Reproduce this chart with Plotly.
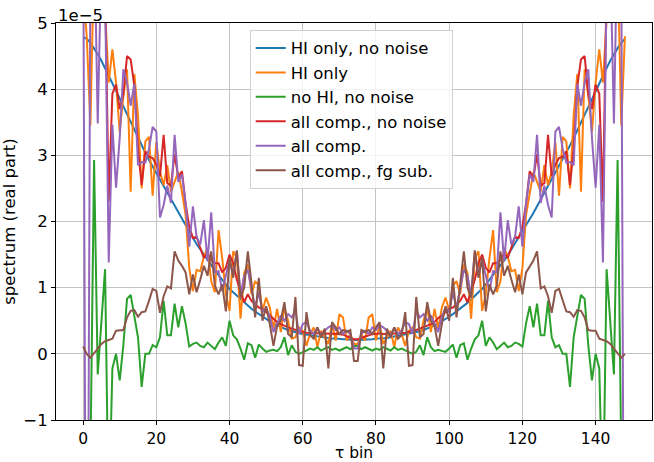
import plotly.graph_objects as go

# tau bins 0..148
tau = list(range(149))

# values in units of 1e-5
hi_no_noise = [
    4.79, 4.76, 4.70, 4.62, 4.53, 4.43, 4.32, 4.21, 4.10, 3.98,
    3.86, 3.74, 3.62, 3.50, 3.38, 3.26, 3.15, 3.04, 2.93, 2.83,
    2.73, 2.63, 2.53, 2.43, 2.33, 2.23, 2.13, 2.03, 1.93, 1.84,
    1.75, 1.66, 1.58, 1.49, 1.41, 1.33, 1.26, 1.19, 1.12, 1.05,
    0.98, 0.93, 0.88, 0.82, 0.77, 0.72, 0.68, 0.64, 0.60, 0.56,
    0.52, 0.49, 0.46, 0.43, 0.40, 0.38, 0.36, 0.34, 0.32, 0.31,
    0.30, 0.29, 0.28, 0.27, 0.26, 0.25, 0.24, 0.24, 0.23, 0.23,
    0.22, 0.22, 0.22, 0.21, 0.21,
    0.21, 0.21, 0.22, 0.22, 0.22, 0.23, 0.23, 0.24, 0.24, 0.25,
    0.26, 0.27, 0.28, 0.29, 0.30, 0.31, 0.32, 0.34, 0.36, 0.38,
    0.40, 0.43, 0.46, 0.49, 0.52, 0.56, 0.60, 0.64, 0.68, 0.72,
    0.77, 0.82, 0.88, 0.93, 0.98, 1.05, 1.12, 1.19, 1.26, 1.33,
    1.41, 1.49, 1.58, 1.66, 1.75, 1.84, 1.93, 2.03, 2.13, 2.23,
    2.33, 2.43, 2.53, 2.63, 2.73, 2.83, 2.93, 3.04, 3.15, 3.26,
    3.38, 3.50, 3.62, 3.74, 3.86, 3.98, 4.10, 4.21, 4.32, 4.43,
    4.53, 4.62, 4.70, 4.76,
]

hi_only = [
    5.5, 4.8, 3.45, 6, 5.5, 6, 5.2, 4.1, 4.6, 4.1,
    3.35, 3.9, 4.3, 2.45, 4.23, 3.6, 2.5, 3.21, 3.28, 2.39,
    3.2, 2.75, 2.55, 2.85, 2.45, 2.6, 2.75, 2.45, 2.1, 1.3,
    0.95, 1.27, 1.25, 1.47, 1.6, 1.1, 0.93, 1.87, 1.45, 0.9,
    0.65, 1.55, 1.45, 0.53, 1.22, 1.35, 0.9, 1.1, 1.03, 0.65,
    0.85, 0.7, 0.38, 0.68, 0.33, 0.7, 0.5, 0.23, 0.25, 0.4,
    0.35, 0.12, 0.3, 0.4, 0.1, 0.35, 0.25, 0.15, 0.45, 0.2,
    0.6, 0.55, 0.2, 0.3, 0.15,
    0.15, 0.3, 0.2, 0.55, 0.6, 0.2, 0.45, 0.15, 0.25, 0.35,
    0.1, 0.4, 0.3, 0.12, 0.35, 0.4, 0.25, 0.23, 0.5, 0.7,
    0.33, 0.68, 0.38, 0.7, 0.85, 0.65, 1.03, 1.1, 0.9, 1.35,
    1.22, 0.53, 1.45, 1.55, 0.65, 0.9, 1.45, 1.87, 0.93, 1.1,
    1.6, 1.47, 1.25, 1.27, 0.95, 1.3, 2.1, 2.45, 2.75, 2.6,
    2.45, 2.85, 2.55, 2.75, 3.2, 2.39, 3.28, 3.21, 2.5, 3.6,
    4.23, 2.45, 4.3, 3.9, 3.35, 4.1, 4.6, 4.1, 5.2, 6,
    5.5, 6, 3.45, 4.8,
]

no_hi_no_noise = [
    -4, -6, -1.6, 2.93, -0.31, 0.48, 1.28, -2.5, -0.22, 0.0,
    -0.4, 0.13, 0.83, 0.89, 0.6, 0.25, -0.5, 0.0, 0.0, 0.13,
    0.1, 0.25, 0.8, 0.28, 0.28, 0.76, 0.4, 0.72, 0.46, 0.11,
    0.15, 0.17, 0.12, 0.1, 0.17, 0.12, 0.07, 0.17, 0.25, 0.12,
    0.5, 0.28, 0.22, 0.08, -0.09, 0.16, 0.13, -0.06, 0.14, 0.08,
    0.03, 0.05, 0.06, 0.04, 0.1, 0.25, -0.02, 0.13, 0.03, 0.0,
    0.02, 0.05, 0.08, 0.06, 0.1, 0.05, 0.08, 0.1, 0.06, 0.08,
    0.05, 0.08, 0.1, 0.07, 0.12,
    0.12, 0.07, 0.1, 0.08, 0.05, 0.08, 0.06, 0.1, 0.08, 0.05,
    0.1, 0.06, 0.08, 0.05, 0.02, 0.0, 0.03, 0.13, -0.02, 0.25,
    0.1, 0.04, 0.06, 0.05, 0.03, 0.08, 0.14, -0.06, 0.13, 0.16,
    -0.09, 0.08, 0.22, 0.28, 0.5, 0.12, 0.25, 0.17, 0.07, 0.12,
    0.17, 0.1, 0.12, 0.17, 0.15, 0.11, 0.46, 0.72, 0.4, 0.76,
    0.28, 0.28, 0.8, 0.25, 0.1, 0.13, 0.0, 0.0, -0.5, 0.25,
    0.6, 0.89, 0.83, 0.13, -0.4, 0.0, -0.22, -2.5, 1.28, 0.48,
    -0.31, 2.93, -1.6, -6,
]

all_no_noise = [
    6.5, 7.5, 6.5, 8, 6.5, 7, 5.6, 2.3, 3.93, 4.07,
    3.7, 3.92, 4.5, 4.45, 4.05, 3.1, 2.55, 3.06, 2.98, 2.96,
    2.86, 2.68, 3.31, 2.58, 2.54, 3.02, 2.66, 2.76, 2.27, 1.92,
    1.75, 1.77, 1.6, 1.45, 1.52, 1.42, 1.37, 1.37, 1.23, 1.3,
    1.5, 1.37, 1.12, 0.95, 0.78, 0.9, 0.8, 0.75, 0.7, 0.68,
    0.63, 0.58, 0.54, 0.48, 0.45, 0.42, 0.4, 0.38, 0.36, 0.34,
    0.33, 0.32, 0.31, 0.31, 0.31, 0.31, 0.3, 0.3, 0.31, 0.3,
    0.3, 0.29, 0.27, 0.24, 0.22,
    0.22, 0.24, 0.27, 0.29, 0.3, 0.3, 0.31, 0.3, 0.3, 0.31,
    0.31, 0.31, 0.31, 0.32, 0.33, 0.34, 0.36, 0.38, 0.4, 0.42,
    0.45, 0.48, 0.54, 0.58, 0.63, 0.68, 0.7, 0.75, 0.8, 0.9,
    0.78, 0.95, 1.12, 1.37, 1.5, 1.3, 1.23, 1.37, 1.37, 1.42,
    1.52, 1.45, 1.6, 1.77, 1.75, 1.92, 2.27, 2.76, 2.66, 3.02,
    2.54, 2.58, 3.31, 2.68, 2.86, 2.96, 2.98, 3.06, 2.55, 3.1,
    4.05, 4.45, 4.5, 3.92, 3.7, 4.07, 3.93, 2.3, 5.6, 7,
    6.5, 8, 6.5, 7.5,
]

all_comp = [
    7, -8, 6, 6.5, 3.48, 6, 5.5, 1.38, 3.46, 2.51,
    3.26, 4.3, 4.1, 3.75, 4.08, 2.85, 2.9, 2.89, 3.1, 3.43,
    3.36, 2.06, 2.25, 2.54, 2.28, 3.31, 2.6, 2.71, 2.27, 1.62,
    2.23, 1.77, 1.65, 2.02, 1.4, 2.14, 1.23, 1.25, 0.95, 1.2,
    1.42, 1.18, 1.56, 0.88, 1.18, 1.27, 0.98, 0.7, 0.93, 0.63,
    0.7, 0.56, 0.33, 0.46, 0.58, 0.5, 0.6, 0.55, 0.65, 0.3,
    0.45, 0.48, 0.35, 0.3, 0.4, 0.28, 0.35, 0.4, 0.43, 0.36,
    0.4, 0.3, 0.35, 0.3, 0.08,
    0.08, 0.3, 0.35, 0.3, 0.4, 0.36, 0.43, 0.4, 0.35, 0.28,
    0.4, 0.3, 0.35, 0.48, 0.45, 0.3, 0.65, 0.55, 0.6, 0.5,
    0.58, 0.46, 0.33, 0.56, 0.7, 0.63, 0.93, 0.7, 0.98, 1.27,
    1.18, 0.88, 1.56, 1.18, 1.42, 1.2, 0.95, 1.25, 1.23, 2.14,
    1.4, 2.02, 1.65, 1.77, 2.23, 1.62, 2.27, 2.71, 2.6, 3.31,
    2.28, 2.54, 2.25, 2.06, 3.36, 3.43, 3.1, 2.89, 2.9, 2.85,
    4.08, 3.75, 4.1, 4.3, 3.26, 2.51, 3.46, 1.38, 5.5, 6,
    3.48, 6.5, 6, -8,
]

all_fg_sub = [
    0.11, 0.0, -0.06, 0.01, 0.08, 0.15, 0.19, 0.21, 0.23, 0.35,
    0.35, 0.36, 0.55, 0.65, 0.66, 0.56, 0.63, 0.64, 0.8, 0.98,
    0.95, 0.62, 0.87, 1.02, 0.99, 1.55, 1.41, 1.33, 1.23, 0.9,
    1.2, 0.93, 1.12, 1.33, 1.18, 1.55, 1.03, 0.9, 1.05, 0.64,
    1.45, 1.15, 1.56, 0.85, 1.0, 1.55, 1.07, 0.55, 1.15, 0.5,
    0.72, 0.45, 0.12, 0.42, 0.5, 0.78, 0.3, 0.25, 0.86, -0.17,
    -0.18, 0.63, 0.28, 0.23, 0.4, 0.25, 0.38, -0.22, 0.48, 0.4,
    0.3, 0.36, 0.33, 0.36, -0.11,
    -0.11, 0.36, 0.33, 0.36, 0.3, 0.4, 0.48, -0.22, 0.38, 0.25,
    0.4, 0.23, 0.28, 0.63, -0.18, -0.17, 0.86, 0.25, 0.3, 0.78,
    0.5, 0.42, 0.12, 0.45, 0.72, 0.5, 1.15, 0.55, 1.07, 1.55,
    1.0, 0.85, 1.56, 1.15, 1.45, 0.64, 1.05, 0.9, 1.03, 1.55,
    1.18, 1.33, 1.12, 0.93, 1.2, 0.9, 1.23, 1.33, 1.41, 1.55,
    0.99, 1.02, 0.87, 0.62, 0.95, 0.98, 0.8, 0.64, 0.63, 0.56,
    0.66, 0.65, 0.55, 0.36, 0.35, 0.35, 0.23, 0.21, 0.19, 0.15,
    0.08, 0.01, -0.06, 0.0,
]

names = ["HI only, no noise", "HI only", "no HI, no noise",
         "all comp., no noise", "all comp.", "all comp., fg sub."]
series = [hi_no_noise, hi_only, no_hi_no_noise, all_no_noise, all_comp, all_fg_sub]
colors = ["#1f77b4", "#ff7f0e", "#2ca02c", "#d62728", "#9467bd", "#8c564b"]

ytick_vals = [-1, 0, 1, 2, 3, 4, 5]
ytick_text = ["\u22121", "0", "1", "2", "3", "4", "5"]
xtick_vals = [0, 20, 40, 60, 80, 100, 120, 140]

FONT = "DejaVu Sans"
FS = 16.5
TFS = 15.5

fig = go.Figure()
for k, (nm, s, c) in enumerate(zip(names, series, colors)):
    fig.add_trace(go.Scatter(
        x=tau, y=s, mode="lines", name=nm, legendgroup=f"g{k}",
        line=dict(color=c, width=2),
    ))

fig.update_layout(
    width=654, height=462,
    margin=dict(l=56, r=1, t=23, b=37),
    paper_bgcolor="white", plot_bgcolor="white",
    font=dict(family=FONT, size=FS, color="black"),
    showlegend=True,
    legend=dict(
        x=0.325, y=0.983, xanchor="left", yanchor="top",
        bgcolor="rgba(255,255,255,0.8)", bordercolor="#d0d0d0", borderwidth=1,
        font=dict(family=FONT, size=FS, color="black"),
        tracegroupgap=0,
    ),
    xaxis=dict(
        range=[-7.4, 155.4], tickvals=xtick_vals,
        showgrid=True, gridcolor="#c4c4c4", gridwidth=1,
        showline=True, linecolor="black", linewidth=1, mirror=True,
        ticks="outside", ticklen=4, tickcolor="black",
        zeroline=False,
        title=dict(text="\u03c4 bin", standoff=3, font=dict(size=TFS)),
        tickfont=dict(size=TFS),
    ),
    yaxis=dict(
        range=[-1, 5], tickvals=ytick_vals, ticktext=ytick_text,
        showgrid=True, gridcolor="#c4c4c4", gridwidth=1,
        showline=True, linecolor="black", linewidth=1, mirror=True,
        ticks="outside", ticklen=4, tickcolor="black",
        zeroline=False,
        title=dict(text="spectrum (real part)", standoff=3, font=dict(size=FS)),
        tickfont=dict(size=FS),
    ),
    annotations=[dict(
        text="1e\u22125", xref="paper", yref="paper", x=0.0, y=1.0,
        xanchor="left", yanchor="bottom", showarrow=False,
        font=dict(family=FONT, size=FS, color="black"), yshift=-4,
    )],
)

fig.write_html("out.html")
